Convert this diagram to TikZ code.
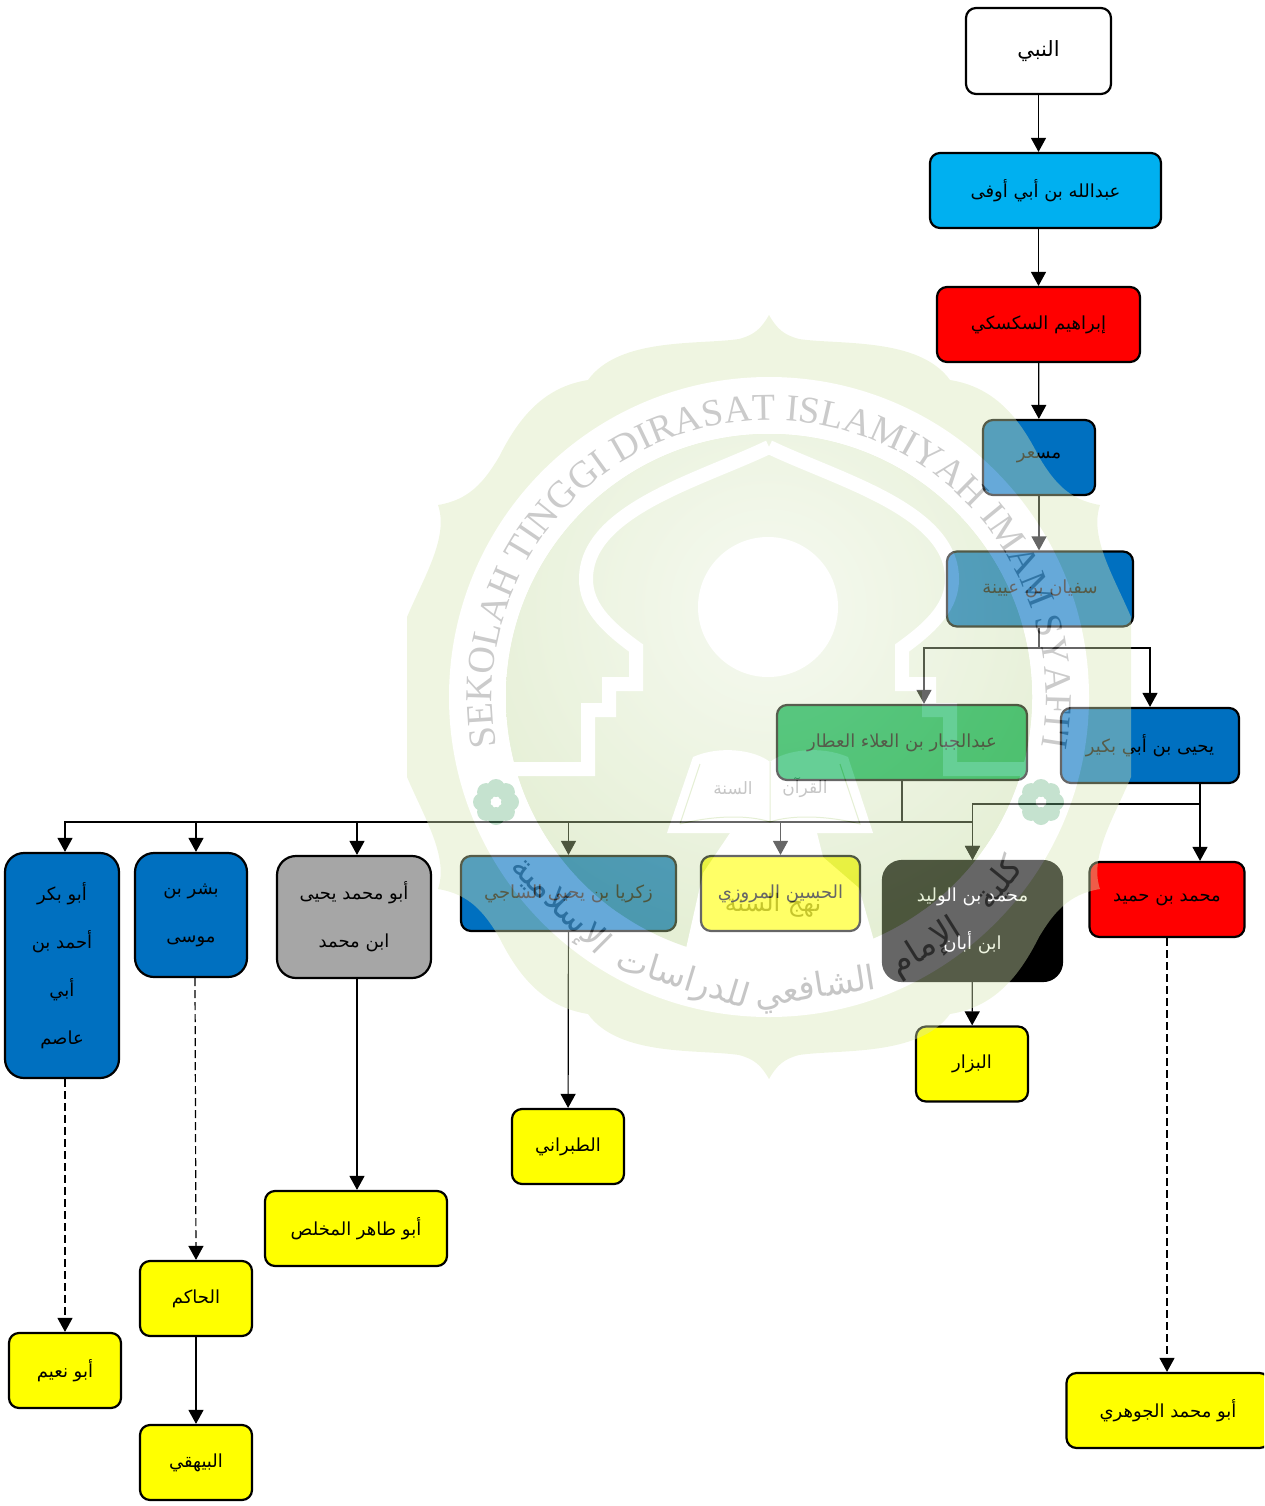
\documentclass[tikz,border=0pt]{standalone}
\usepackage{fontspec}
\usepackage{xcolor}
\usetikzlibrary{arrows.meta, decorations.text}
\TeXXeTstate=1
\newfontfamily\arabicfont[Script=Arabic]{DejaVu Sans}
\newfontfamily\logofont{Liberation Serif}
\newcommand{\artext}[1]{\beginR #1\endR}
\definecolor{skyfill}{HTML}{00B0F0}
\definecolor{bluefill}{HTML}{0070C0}
\definecolor{greenfill}{HTML}{00B050}
\definecolor{grayfill}{HTML}{A6A6A6}
\definecolor{yellowfill}{HTML}{FFFF00}
\definecolor{redfill}{HTML}{FF0000}
\definecolor{logoouter}{HTML}{D7E6B4}
\definecolor{logoinner}{HTML}{BED796}
\definecolor{logoflower}{HTML}{6EB687}
\definecolor{logotext}{HTML}{707070}
\definecolor{logolatin}{HTML}{7C7C7C}
\tikzset{
  arbox/.style={draw=black, line width=2.2pt, rounded corners=10pt, inner sep=0pt,
    minimum height=75pt, align=center, font=\arabicfont\fontsize{18}{48}\selectfont},
  tallbox/.style={arbox, rounded corners=19pt},
  yellowbox/.style={arbox, fill=yellowfill},
  arr/.style={-{Triangle[length=14pt,width=15pt]}, line width=1.2pt},
  link/.style={line width=1.2pt},
  dashlink/.style={arr, dash pattern=on 8pt off 4pt},
  logoword/.style={text=logotext, inner sep=0pt, font=\arabicfont\fontsize{34}{34}\selectfont},
}
\begin{document}
\begin{tikzpicture}[x=1pt,y=-1pt]
  \path[use as bounding box, clip] (0,0) rectangle (1264,1506);
  \node[arbox, fill=white, minimum width=145pt, minimum height=86pt, font=\arabicfont\fontsize{21}{48}\selectfont] (nabi) at (1038.5,51) {\artext{النبي}};
  \node[arbox, fill=skyfill, minimum width=231pt] (abdullah) at (1045.5,190.5) {\artext{عبدالله بن أبي أوفى}};
  \node[arbox, fill=redfill, minimum width=203pt] (ibrahim) at (1038.5,324.5) {\artext{إبراهيم السكسكي}};
  \node[arbox, fill=bluefill, minimum width=112pt] (misar) at (1039,457.5) {\artext{مسعر}};
  \node[arbox, fill=bluefill, minimum width=186pt] (sufyan) at (1040,589) {\artext{سفيان بن عيينة}};
  \node[arbox, fill=greenfill, minimum width=250pt] (jabbar) at (902,742.5) {\artext{عبدالجبار بن العلاء العطار}};
  \node[arbox, fill=bluefill, minimum width=178pt] (bukair) at (1150,745.5) {\artext{يحيى بن أبي بكير}};
  \node[tallbox, fill=bluefill, minimum width=114pt, minimum height=225pt] (ahmad) at (62,965.5) {\artext{أبو بكر}\\\artext{أحمد بن}\\\artext{أبي}\\\artext{عاصم}};
  \node[tallbox, fill=bluefill, minimum width=112pt, minimum height=124pt] (bisyr) at (191,915) {\artext{بشر بن}\\\artext{موسى}};
  \node[tallbox, fill=grayfill, minimum width=154pt, minimum height=122pt] (yahya) at (354,917) {\artext{أبو محمد يحيى}\\\artext{ابن محمد}};
  \node[arbox, fill=bluefill, minimum width=215pt] (zakariya) at (568.5,893.5) {\artext{زكريا بن يحيى الساجي}};
  \node[yellowbox, minimum width=159pt] (husain) at (780.5,893.5) {\artext{الحسين المروزي}};
  \node[tallbox, fill=black, text=white, minimum width=179pt, minimum height=120pt] (walid) at (972.5,921) {\artext{محمد بن الوليد}\\\artext{ابن أبان}};
  \node[arbox, fill=redfill, minimum width=155pt] (humaid) at (1167,899.5) {\artext{محمد بن حميد}};
  \node[yellowbox, minimum width=112pt] (bazzar) at (972,1064) {\artext{البزار}};
  \node[yellowbox, minimum width=112pt] (tabarani) at (568,1146.5) {\artext{الطبراني}};
  \node[yellowbox, minimum width=182pt] (mukhallis) at (356,1228.5) {\artext{أبو طاهر المخلص}};
  \node[yellowbox, minimum width=112pt] (hakim) at (196,1298.5) {\artext{الحاكم}};
  \node[yellowbox, minimum width=112pt] (baihaqi) at (196,1462.5) {\artext{البيهقي}};
  \node[yellowbox, minimum width=112pt] (nuaim) at (65,1370.5) {\artext{أبو نعيم}};
  \node[yellowbox, minimum width=203pt] (jauhari) at (1168,1410.5) {\artext{أبو محمد الجوهري}};
  \coordinate (sbus) at (1039,648);
  \coordinate (jbus) at (902,822);
  \coordinate (bbus) at (1200,804);
  \draw[arr] (nabi) -- (nabi |- abdullah.north);
  \draw[arr] (nabi |- abdullah.south) -- (ibrahim);
  \draw[arr] (ibrahim) -- (misar);
  \draw[arr] (misar) -- (misar |- sufyan.north);
  \draw[link] (sbus |- sufyan.south) -- (sbus);
  \draw[arr] (sbus) -| ([xshift=22pt]jabbar.north);
  \draw[arr] (sbus) -| (bukair.north);
  \draw[link] (jabbar.south) -- (jbus);
  \draw[arr] (jbus) -| ([xshift=3pt]ahmad.north);
  \draw[arr] (jbus) -| ([xshift=5pt]bisyr.north);
  \draw[arr] (jbus) -| ([xshift=3pt]yahya.north);
  \draw[arr] (jbus) -| (zakariya.north);
  \draw[arr] (jbus) -| (husain.north);
  \draw[arr] (jbus) -| (walid.north);
  \draw[link] (bbus |- bukair.south) -- (bbus);
  \draw[arr] (bbus) -| (walid.north);
  \draw[arr] (bbus) -- (bbus |- humaid.north);
  \draw[arr] (walid) -- (bazzar);
  \draw[arr] (zakariya) -- (tabarani);
  \draw[arr] ([xshift=3pt]yahya.south) -- ([xshift=3pt]yahya.south |- mukhallis.north);
  \draw[dashlink] ([xshift=4pt]bisyr.south) -- (hakim.north);
  \draw[arr] (hakim) -- (baihaqi);
  \draw[dashlink] ([xshift=3pt]ahmad.south) -- (nuaim.north);
  \draw[dashlink] (humaid) -- (humaid |- jauhari.north);
  \coordinate (logo) at (769,697);
  \begin{scope}[transparency group, opacity=0.4]
    \foreach \sx in {1,-1} \foreach \sy in {1,-1} {
      \fill[logoouter, shift={(logo)}, xscale=\sx, yscale=\sy] (0,-382) .. controls (-8,-368) and (-15,-362) .. (-30,-358)
        .. controls (-70,-352) and (-150,-360) .. (-181,-317)
        .. controls (-225,-310) and (-250,-280) .. (-270,-240)
        .. controls (-285,-215) and (-300,-197) .. (-331,-192)
        .. controls (-320,-160) and (-345,-120) .. (-362,-80) -- (-362,0) -- (0,0) -- cycle;
    }
    \fill[white] (logo) circle[radius=320pt];
    \fill[logoinner] (logo) circle[radius=263pt];
    \begin{scope}
      \clip (logo) circle[radius=263pt];
      \shade[inner color=logoinner!35, outer color=logoinner] (768,607) circle[radius=340pt];
    \end{scope}
    \foreach \sx in {1,-1} {
      \draw[white, line width=14pt, shift={(logo)}, xscale=\sx] (-260,72) -- (-181,72) -- (-181,13) -- (-160,13) -- (-160,-13) -- (-133,-13) -- (-133,-49)
        .. controls (-165,-72) and (-183,-92) .. (-183,-118) .. controls (-183,-187) and (-69,-217) .. (0,-250);
    }
    \fill[white] (768,607) circle[radius=70pt];
    \fill[white] (730,833) -- (817,833) -- (823,857) -- (859,888) -- (880,962) -- (683,962) -- (703,873) -- cycle;
    \fill[white] (667,833) -- (693,757) .. controls (720,745) and (755,750) .. (770,762) .. controls (785,750) and (820,745) .. (848,757) -- (873,833) -- cycle;
    \draw[logoinner, line width=1pt] (680,824) -- (700,764) (680,824) .. controls (715,815) and (750,815) .. (770,822) .. controls (790,815) and (825,815) .. (860,824) -- (840,764) (770,762) -- (770,822);
    \foreach \fx in {496,1041} {
      \foreach \a in {0,45,...,315} \fill[logoflower] ([shift={(\a:14pt)}]\fx,802) circle[radius=9pt];
      \fill[white] (\fx,802) circle[radius=3pt];
    }
    \path[decorate, decoration={text along path, text align={align=center},
      text={|\logofont\fontsize{38}{38}\selectfont\color{logolatin}|SEKOLAH TINGGI DIRASAT ISLAMIYAH IMAM SYAFI'I}}]
      ([shift={(197:277pt)}]logo) arc[start angle=197, end angle=-17, radius=277pt];
    \foreach \w/\ang [count=\i] in {كلية/-39, الإمام/-58, الشافعي/-81, للدراسات/-107, الإسلامية/-135}
      \node[logoword, rotate=\ang+90] (word\i) at ([shift={(\ang:296pt)}]logo) {\artext{\w}};
    \node[logoword, font=\arabicfont\fontsize{17}{17}\selectfont] (quran) at (805,788) {\artext{القرآن}};
    \node[logoword, font=\arabicfont\fontsize{17}{17}\selectfont] (sunna) at (733,788) {\artext{السنة}};
    \node[logoword, font=\arabicfont\fontsize{24}{24}\selectfont] (nahj) at (773,905) {\artext{نهج السنة}};
  \end{scope}
\end{tikzpicture}
\end{document}
